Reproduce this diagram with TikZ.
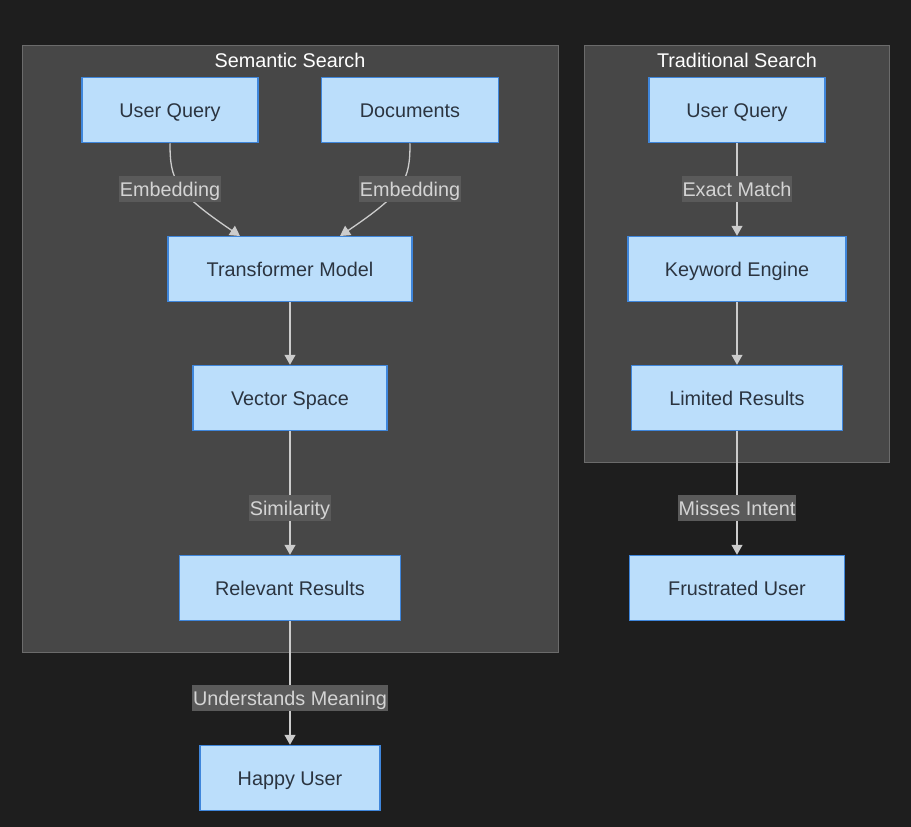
\documentclass[tikz,border=0pt]{standalone}
\usepackage{fontspec}
\setmainfont{Liberation Sans}
\usetikzlibrary{arrows.meta}
\definecolor{bg}{HTML}{1E1E1E}
\definecolor{clfill}{HTML}{474747}
\definecolor{clline}{HTML}{6B6B6B}
\definecolor{nfill}{HTML}{BBDEFB}
\definecolor{nline}{HTML}{3F86DB}
\definecolor{ntext}{HTML}{2B3440}
\definecolor{lblfill}{HTML}{5A5A5A}
\definecolor{lbltext}{HTML}{D4D4D4}
\definecolor{edge}{HTML}{CCCCCC}
\tikzset{
  box/.style={draw=nline, fill=nfill, line width=1.5pt, text=ntext, minimum height=65pt, inner sep=0pt, text height=14pt, text depth=0pt, font=\fontsize{19.8}{22}\selectfont},
  cluster/.style={draw=clline, fill=clfill, line width=1pt},
  ctitle/.style={text=white, font=\fontsize{19.8}{22}\selectfont, inner sep=0pt, text height=14pt, text depth=0pt},
  elabel/.style={fill=lblfill, text=lbltext, font=\fontsize{19.8}{22}\selectfont, inner xsep=1pt, inner ysep=0pt, text height=14pt, text depth=0pt, minimum height=26pt},
  conn/.style={draw=edge, line width=1.3pt, -{Triangle[length=10pt,width=11pt]}},
  plain/.style={draw=edge, line width=1.3pt}
}
\begin{document}
\begin{tikzpicture}[x=1pt,y=-1pt]
\fill[bg] (0,0) rectangle (911,827);
\useasboundingbox (0,0) rectangle (911,827);
% clusters
\draw[cluster] (22,45) rectangle (558,652);
\draw[cluster] (584,45) rectangle (889,462);
\node[ctitle] (semt) at (290,60) {Semantic Search};
\node[ctitle] (tradt) at (737,60) {Traditional Search};
% nodes semantic
\node[box, minimum width=176pt] (uq) at (170,110) {User Query};
\node[box, minimum width=177pt] (docs) at (410,110) {Documents};
\node[box, minimum width=244pt] (tm) at (290,269) {Transformer Model};
\node[box, minimum width=194pt] (vs) at (290,398) {Vector Space};
\node[box, minimum width=221pt] (rr) at (290,588) {Relevant Results};
\node[box, minimum width=180pt] (hu) at (290,778) {Happy User};
% nodes traditional
\node[box, minimum width=176pt] (tuq) at (737,110) {User Query};
\node[box, minimum width=218pt] (ke) at (737,269) {Keyword Engine};
\node[box, minimum width=211pt] (lr) at (737,398) {Limited Results};
\node[box, minimum width=215pt] (fu) at (737,588) {Frustrated User};
% edges
\coordinate (tmA) at (240,236);
\coordinate (tmB) at (340,236);
\draw[conn] (uq.south) .. controls (170,180) and (175,192) .. (tmA);
\draw[conn] (docs.south) .. controls (410,180) and (405,192) .. (tmB);
\draw[conn] (tm) -- (vs);
\draw[conn] (vs) -- (rr);
\draw[conn] (rr) -- (hu);
\draw[conn] (tuq) -- (ke);
\draw[conn] (ke) -- (lr);
\draw[conn] (lr) -- (fu);
% edge labels
\node[elabel] (l1) at (170,189) {Embedding};
\node[elabel] (l2) at (410,189) {Embedding};
\node[elabel] (l3) at (737,189) {Exact Match};
\node[elabel] (l4) at (290,508) {Similarity};
\node[elabel] (l5) at (737,508) {Misses Intent};
\node[elabel] (l6) at (290,698) {Understands Meaning};
\end{tikzpicture}
\end{document}
